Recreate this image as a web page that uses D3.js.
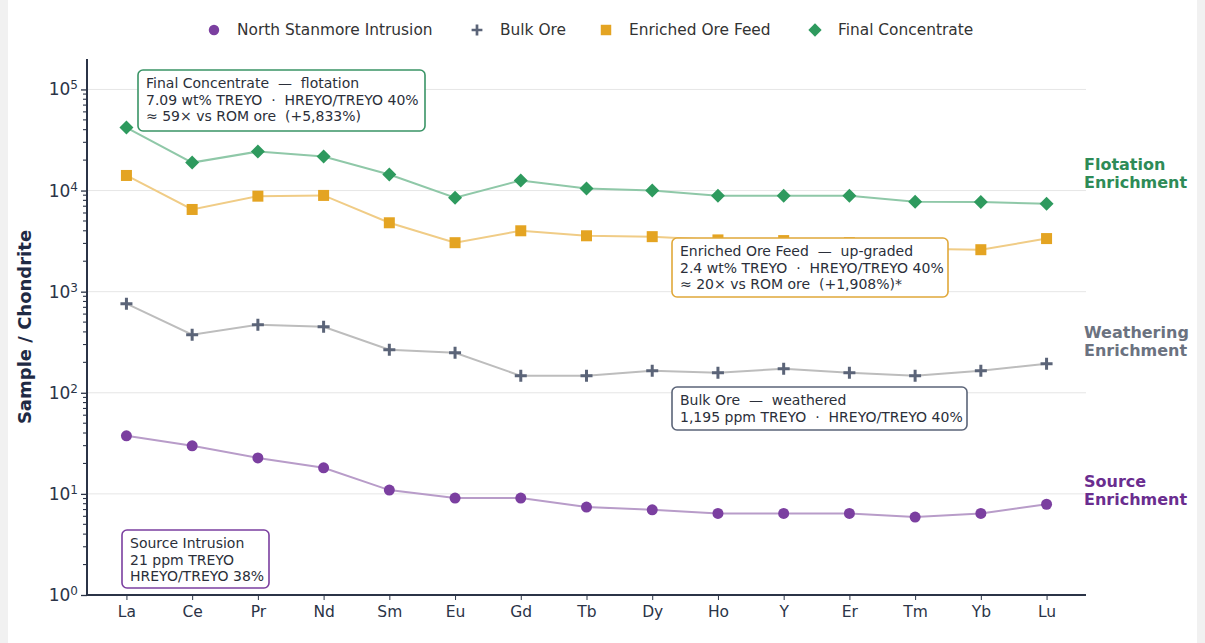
<!DOCTYPE html>
<html><head><meta charset="utf-8">
<script src="https://cdn.jsdelivr.net/npm/d3@7"></script>
<style>
body{margin:0;background:#f1f1f1;}
#card{position:absolute;left:8px;top:0;width:1189px;height:643px;background:#fff;}
svg{position:absolute;left:0;top:0;font-family:"DejaVu Sans",sans-serif;}
</style></head>
<body><div id="card"></div><svg id="chart" width="1205" height="643"></svg>
<script>
const elements = ["La","Ce","Pr","Nd","Sm","Eu","Gd","Tb","Dy","Ho","Y","Er","Tm","Yb","Lu"];
const source = [37.5,29.9,22.7,18.1,10.9,9.1,9.1,7.4,6.95,6.4,6.4,6.4,5.9,6.4,7.9];
const bulkOre = [760,375,471,450,267,249,147,147,165,158,173,158,147,165,194];
const enrichedFeed = [14100,6500,8800,8950,4800,3050,4000,3570,3500,3250,3200,3050,2650,2600,3350];
const finalConc = [42000,18900,24300,21700,14400,8500,12600,10500,10000,8900,8900,8900,7750,7700,7400];
const seriesNames = ["North Stanmore Intrusion","Bulk Ore","Enriched Ore Feed","Final Concentrate"];
const yTicks = [1,10,100,1000,10000,100000];

const svg = d3.select("#chart");
const L=87, R=1086, T=59, B=595;
const x = d3.scalePoint().domain(elements).range([L,R]).padding(0.6);
const y = d3.scaleLog().domain([1,2e5]).range([B,T]);
const navy = "#2b3447";

// grid
svg.append("g").selectAll("line").data(yTicks).join("line")
  .attr("x1",L).attr("x2",R).attr("y1",d=>y(d)).attr("y2",d=>y(d))
  .attr("stroke","#e6e6e6").attr("stroke-width",1);

// axes
const yAx = svg.append("g").attr("transform",`translate(${L},0)`)
  .call(d3.axisLeft(y).tickValues(yTicks).tickSize(6).tickFormat(d=>""));
yAx.selectAll(".tick text").remove();
yAx.selectAll(".tick").each(function(d){
  const t=d3.select(this).append("text").attr("x",-9).attr("dy","0.32em")
   .attr("text-anchor","end").attr("fill",navy).style("font-size","17px").style("font-family","DejaVu Sans");
  t.append("tspan").style("font-size","17px").text("10");
  t.append("tspan").attr("dy","-0.5em").style("font-size","12px").text(Math.round(Math.log10(d)));
});
const minor=[];
for(let e=0;e<6;e++) for(let m=2;m<10;m++){const v=m*Math.pow(10,e); if(v<2e5) minor.push(v);}
svg.append("g").selectAll("line").data(minor).join("line")
  .attr("x1",L-4).attr("x2",L).attr("y1",d=>y(d)).attr("y2",d=>y(d))
  .attr("stroke",navy).attr("stroke-width",1.1);
yAx.select(".domain").attr("stroke",navy).attr("stroke-width",2).attr("d",`M0,${T}V${B}`);
yAx.selectAll(".tick line").attr("stroke",navy).attr("stroke-width",1.3);

const xAx = svg.append("g").attr("transform",`translate(0,${B})`)
  .call(d3.axisBottom(x).tickSize(5).tickPadding(6));
xAx.select(".domain").attr("stroke",navy).attr("stroke-width",2).attr("d",`M${L},0H${R}`);
xAx.selectAll(".tick line").attr("stroke",navy);
xAx.selectAll(".tick text").attr("fill",navy).style("font-size","15.5px").style("font-family","DejaVu Sans");

svg.append("text").attr("transform",`translate(31,327) rotate(-90)`).attr("text-anchor","middle")
  .attr("font-weight","bold").attr("font-size",18).attr("fill","#1f2a44").text("Sample / Chondrite");

// series
const series = [
  {name:seriesNames[0], data:source, c:"#7b3fa0", lc:"#b89cc9", shape:"circle"},
  {name:seriesNames[1], data:bulkOre, c:"#5b6478", lc:"#bdbdbd", shape:"plus"},
  {name:seriesNames[2], data:enrichedFeed, c:"#e4a422", lc:"#f0cc86", shape:"square"},
  {name:seriesNames[3], data:finalConc, c:"#2e9a5e", lc:"#8fc8a8", shape:"diamond"}
];
function marker(g, shape, c, cx, cy, s){
  s = s||1;
  if(shape==="circle") g.append("circle").attr("cx",cx).attr("cy",cy).attr("r",5.5*s).attr("fill",c);
  else if(shape==="square") g.append("rect").attr("x",cx-5.5*s).attr("y",cy-5.5*s).attr("width",11*s).attr("height",11*s).attr("fill",c);
  else if(shape==="diamond") g.append("path").attr("d",`M${cx},${cy-7*s}L${cx+7*s},${cy}L${cx},${cy+7*s}L${cx-7*s},${cy}Z`).attr("fill",c);
  else g.append("path").attr("d",`M${cx-6*s},${cy}H${cx+6*s}M${cx},${cy-6*s}V${cy+6*s}`).attr("stroke",c).attr("stroke-width",3*s);
}
const line = d3.line().x((d,i)=>x(elements[i])).y(d=>y(d));
series.forEach(s=>{
  svg.append("path").attr("d",line(s.data)).attr("fill","none").attr("stroke",s.lc).attr("stroke-width",2);
  const g=svg.append("g");
  s.data.forEach((v,i)=>marker(g,s.shape,s.c,x(elements[i]),y(v)));
});

// legend
const legX=[214,477,606,815];
const lg=svg.append("g");
series.forEach((s,i)=>{
  marker(lg,s.shape,s.c,legX[i],30,s.shape==="plus"?0.9:0.95);
  lg.append("text").attr("x",legX[i]+23).attr("y",30).attr("dy","0.35em").style("font-size","15.4px")
    .attr("fill","#333").style("font-family","DejaVu Sans").text(s.name);
});

// annotation boxes
function box(x0,y0,w,h,stroke,lines){
  const g=svg.append("g");
  g.append("rect").attr("x",x0).attr("y",y0).attr("width",w).attr("height",h).attr("rx",5)
   .attr("fill","#fff").attr("stroke",stroke).attr("stroke-width",1.6);
  lines.forEach((t,i)=>g.append("text").attr("x",x0+8).attr("y",y0+18+i*16.5)
    .style("font-size","14px").attr("fill","#2b2f3a").style("white-space","pre").text(t));
}
box(138,70,287,61,"#3a9466",["Final Concentrate  —  flotation","7.09 wt% TREYO  ·  HREYO/TREYO 40%","≈ 59× vs ROM ore  (+5,833%)"]);
box(672,238,276,59,"#e0a83a",["Enriched Ore Feed  —  up-graded","2.4 wt% TREYO  ·  HREYO/TREYO 40%","≈ 20× vs ROM ore  (+1,908%)*"]);
box(672,387,295,43,"#5b6478",["Bulk Ore  —  weathered","1,195 ppm TREYO  ·  HREYO/TREYO 40%"]);
box(122,530,147,58,"#7b3fa0",["Source Intrusion","21 ppm TREYO","HREYO/TREYO 38%"]);

// right labels
const rl=[["Flotation","Enrichment",164,"#2e8b57"],["Weathering","Enrichment",332,"#6b7280"],["Source","Enrichment",481,"#6a2d8f"]];
rl.forEach(r=>{
  [r[0],r[1]].forEach((t,i)=>svg.append("text").attr("x",1084).attr("y",r[2]+i*18).attr("dy","0.35em")
    .style("font-size","16px").attr("font-weight","bold").attr("fill",r[3]).text(t));
});
</script></body></html>
